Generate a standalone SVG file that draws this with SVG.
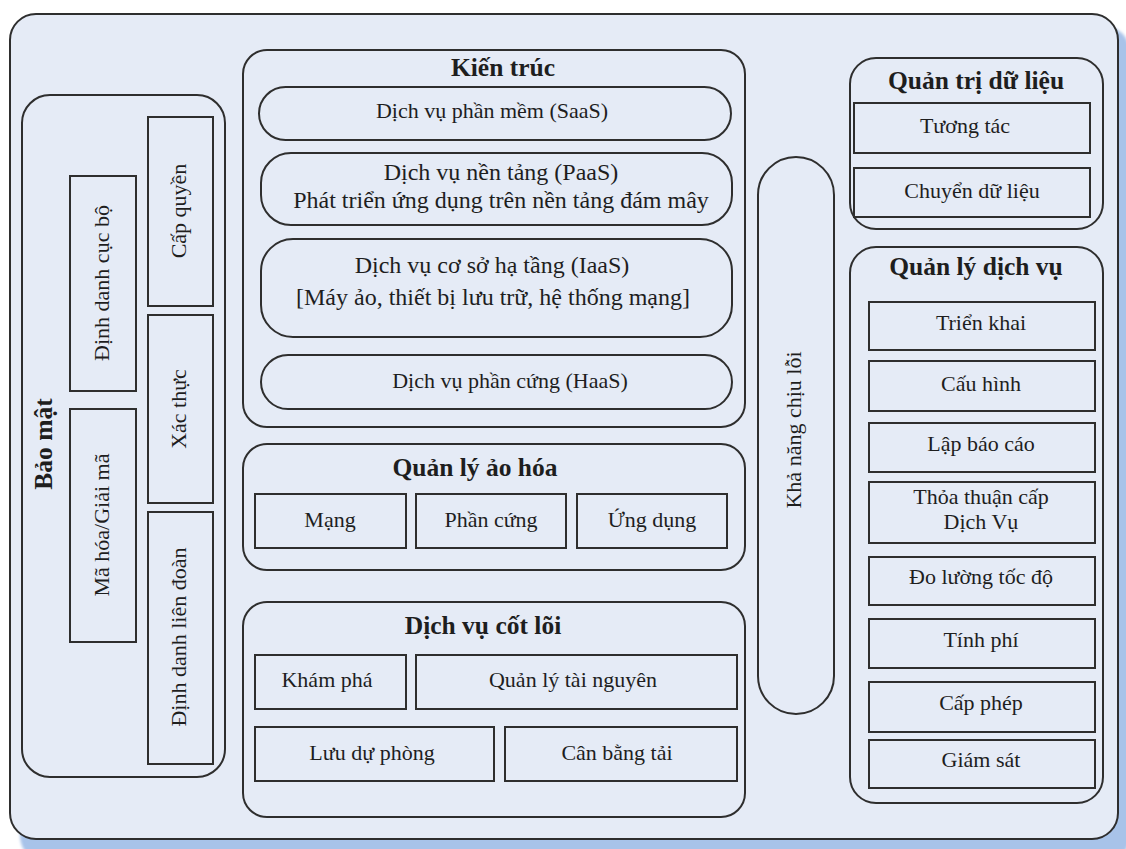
<svg xmlns="http://www.w3.org/2000/svg" width="1126" height="849" viewBox="0 0 1126 849">
  <defs>
    <style>
      .box { fill: #e5ebf6; stroke: #2e2e2e; stroke-width: 2; }
      .t { font-family: "Liberation Serif", "Times New Roman", serif; font-size: 22px; fill: #1e1e1e; text-anchor: middle; }
      .big { font-size: 24px; }
      .h { font-weight: bold; font-size: 25.5px; }
    </style>
    <filter id="soft" x="-5%" y="-5%" width="110%" height="110%">
      <feGaussianBlur stdDeviation="1.5"/>
    </filter>
  </defs>

  <rect width="1126" height="849" fill="#ffffff"/>

  <!-- outer frame with its drop shadow -->
  <g id="frame">
    <rect x="20" y="26" width="1110" height="836" rx="26" fill="#a8c3e9" filter="url(#soft)"/>
    <rect class="box" x="10" y="14" width="1108" height="825" rx="26"/>
  </g>

  <!-- security column -->
  <g id="bao-mat">
    <rect class="box" x="22" y="95" width="203" height="682" rx="28"/>
    <text class="t h" transform="translate(52,444) rotate(-90)">Bảo mật</text>
  </g>
  <g id="dinh-danh-cuc-bo">
    <rect class="box" x="70" y="176" width="66" height="215"/>
    <text class="t" transform="translate(109,283) rotate(-90)">Định danh cục bộ</text>
  </g>
  <g id="ma-hoa">
    <rect class="box" x="70" y="409" width="66" height="233"/>
    <text class="t" transform="translate(109,525) rotate(-90)">Mã hóa/Giải mã</text>
  </g>
  <g id="cap-quyen">
    <rect class="box" x="148" y="117" width="65" height="189"/>
    <text class="t" transform="translate(186,211) rotate(-90)">Cấp quyền</text>
  </g>
  <g id="xac-thuc">
    <rect class="box" x="148" y="315" width="65" height="188"/>
    <text class="t" transform="translate(186,409) rotate(-90)">Xác thực</text>
  </g>
  <g id="dinh-danh-lien-doan">
    <rect class="box" x="148" y="512" width="65" height="252"/>
    <text class="t" transform="translate(186,637) rotate(-90)">Định danh liên đoàn</text>
  </g>

  <!-- architecture stack -->
  <g id="kien-truc">
    <rect class="box" x="243" y="50" width="502" height="377" rx="24"/>
    <text class="t h" x="503" y="76">Kiến trúc</text>
  </g>
  <g id="saas">
    <rect class="box" x="259" y="87" width="472" height="53" rx="26.5"/>
    <text class="t" x="492" y="118">Dịch vụ phần mềm (SaaS)</text>
  </g>
  <g id="paas">
    <rect class="box" x="261" y="153" width="471" height="72" rx="30"/>
    <text class="t big" x="501" y="180">Dịch vụ nền tảng (PaaS)</text>
    <text class="t big" x="501" y="208">Phát triển ứng dụng trên nền tảng đám mây</text>
  </g>
  <g id="iaas">
    <rect class="box" x="261" y="239" width="471" height="98" rx="32"/>
    <text class="t big" x="492" y="273">Dịch vụ cơ sở hạ tầng (IaaS)</text>
    <text class="t big" x="493" y="305">[Máy ảo, thiết bị lưu trữ, hệ thống mạng]</text>
  </g>
  <g id="haas">
    <rect class="box" x="261" y="355" width="471" height="54" rx="27"/>
    <text class="t" x="510" y="388">Dịch vụ phần cứng (HaaS)</text>
  </g>

  <!-- virtualization management -->
  <g id="quan-ly-ao-hoa">
    <rect class="box" x="243" y="444" width="502" height="126" rx="24"/>
    <text class="t h" x="475" y="476">Quản lý ảo hóa</text>
  </g>
  <g id="mang">
    <rect class="box" x="255" y="494" width="151" height="54"/>
    <text class="t" x="330" y="527">Mạng</text>
  </g>
  <g id="phan-cung">
    <rect class="box" x="416" y="494" width="150" height="54"/>
    <text class="t" x="491" y="527">Phần cứng</text>
  </g>
  <g id="ung-dung">
    <rect class="box" x="577" y="494" width="150" height="54"/>
    <text class="t" x="652" y="527">Ứng dụng</text>
  </g>

  <!-- core services -->
  <g id="dich-vu-cot-loi">
    <rect class="box" x="243" y="602" width="502" height="215" rx="24"/>
    <text class="t h" x="483" y="634">Dịch vụ cốt lõi</text>
  </g>
  <g id="kham-pha">
    <rect class="box" x="255" y="655" width="151" height="54"/>
    <text class="t" x="327" y="687">Khám phá</text>
  </g>
  <g id="quan-ly-tai-nguyen">
    <rect class="box" x="416" y="655" width="321" height="54"/>
    <text class="t" x="573" y="687">Quản lý tài nguyên</text>
  </g>
  <g id="luu-du-phong">
    <rect class="box" x="255" y="727" width="239" height="54"/>
    <text class="t" x="372" y="760">Lưu dự phòng</text>
  </g>
  <g id="can-bang-tai">
    <rect class="box" x="505" y="727" width="232" height="54"/>
    <text class="t" x="617" y="760">Cân bằng tải</text>
  </g>

  <!-- fault tolerance bar -->
  <g id="kha-nang-chiu-loi">
    <rect class="box" x="758" y="157" width="76" height="557" rx="38"/>
    <text class="t" transform="translate(801,430) rotate(-90)">Khả năng chịu lỗi</text>
  </g>

  <!-- data governance -->
  <g id="quan-tri-du-lieu">
    <rect class="box" x="850" y="58" width="253" height="171" rx="26"/>
    <text class="t h" x="976" y="89">Quản trị dữ liệu</text>
  </g>
  <g id="tuong-tac">
    <rect class="box" x="854" y="103" width="236" height="50"/>
    <text class="t" x="965" y="133">Tương tác</text>
  </g>
  <g id="chuyen-du-lieu">
    <rect class="box" x="854" y="168" width="236" height="49"/>
    <text class="t" x="972" y="198">Chuyển dữ liệu</text>
  </g>

  <!-- service management -->
  <g id="quan-ly-dich-vu">
    <rect class="box" x="850" y="247" width="253" height="556" rx="26"/>
    <text class="t h" x="976" y="275">Quản lý dịch vụ</text>
  </g>
  <g id="trien-khai">
    <rect class="box" x="869" y="302" width="226" height="48"/>
    <text class="t" x="981" y="330">Triển khai</text>
  </g>
  <g id="cau-hinh">
    <rect class="box" x="869" y="361" width="226" height="50"/>
    <text class="t" x="981" y="391">Cấu hình</text>
  </g>
  <g id="lap-bao-cao">
    <rect class="box" x="869" y="423" width="226" height="49"/>
    <text class="t" x="981" y="451">Lập báo cáo</text>
  </g>
  <g id="thoa-thuan">
    <rect class="box" x="869" y="482" width="226" height="61"/>
    <text class="t" x="981" y="504">Thỏa thuận cấp</text>
    <text class="t" x="981" y="529">Dịch Vụ</text>
  </g>
  <g id="do-luong">
    <rect class="box" x="869" y="557" width="226" height="48"/>
    <text class="t" x="981" y="584">Đo lường tốc độ</text>
  </g>
  <g id="tinh-phi">
    <rect class="box" x="869" y="619" width="226" height="49"/>
    <text class="t" x="981" y="647">Tính phí</text>
  </g>
  <g id="cap-phep">
    <rect class="box" x="869" y="682" width="226" height="50"/>
    <text class="t" x="981" y="710">Cấp phép</text>
  </g>
  <g id="giam-sat">
    <rect class="box" x="869" y="740" width="226" height="48"/>
    <text class="t" x="981" y="767">Giám sát</text>
  </g>

  <g id="connectors"/>
</svg>
